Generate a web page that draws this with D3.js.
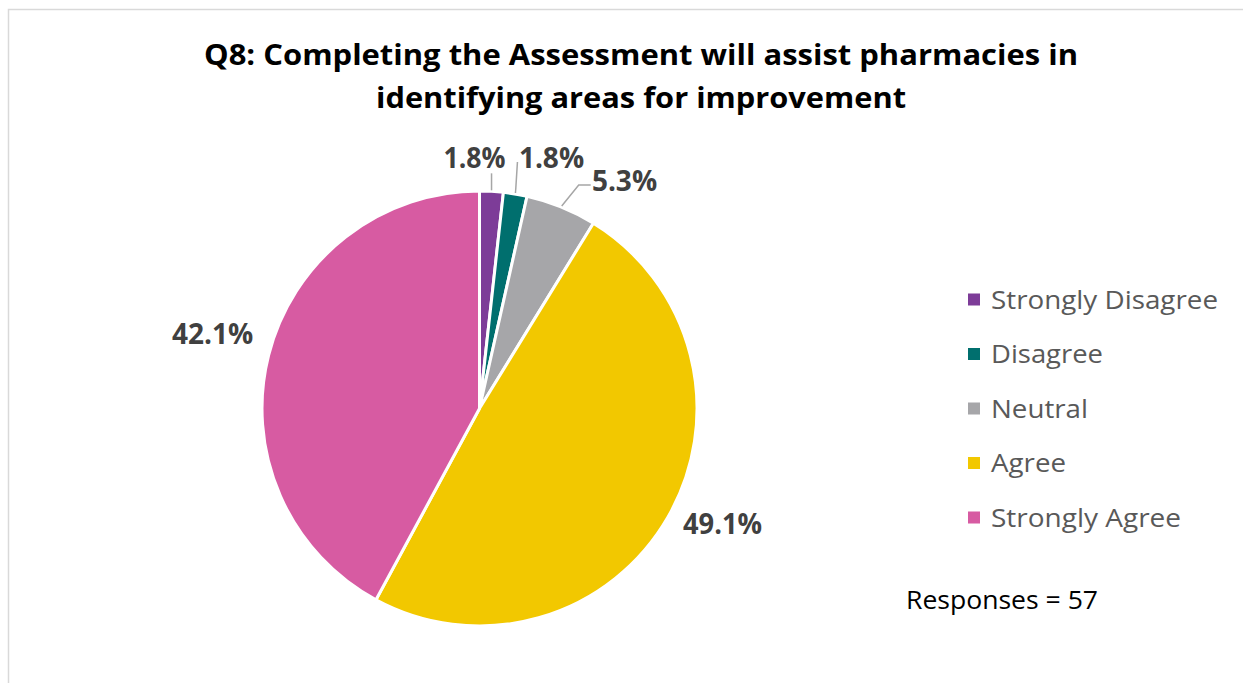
<!DOCTYPE html>
<html>
<head>
<meta charset="utf-8">
<script src="https://cdn.jsdelivr.net/npm/d3@7"></script>
<style>
  body { margin: 0; background: #fff; }
  svg { display: block; font-family: "Open Sans", "Noto Sans", sans-serif; }
</style>
</head>
<body>
<div id="chart"></div>
<script>
// Q8 responses (counts out of 57)
const categories = ["Strongly Disagree", "Disagree", "Neutral", "Agree", "Strongly Agree"];
const counts = [1, 1, 3, 28, 24];
const colors = ["#7d3c98", "#006f6e", "#a6a6a9", "#f2c800", "#d75ba2"];
const titleLines = ["Q8: Completing the Assessment will assist pharmacies in",
                    "identifying areas for improvement"];
const footnote = "Responses = 57";

const width = 1243, height = 683;
const cx = 479.5, cy = 408.5, radius = 217.5;

// label placement relative to pie centre, and leader line elbows (null = no leader)
const labelLayout = [
  { x: -5,   y: -251, w: 62, leader: [[0, -17]] },
  { x: 72,   y: -251, w: 65, leader: [[2, -31]] },
  { x: 145,  y: -228, w: 64, leader: [[17, -21], [29, -21]] },
  { x: 243,  y: 115,  w: 79, leader: null },
  { x: -267, y: -75,  w: 80, leader: null }
];

const svg = d3.select("#chart").append("svg")
  .attr("width", width)
  .attr("height", height);

// chart area border
svg.append("path")
  .attr("d", `M8.5,${height} V9.5 H${width}`)
  .attr("fill", "none")
  .attr("stroke", "#d9d9d9")
  .attr("stroke-width", 1.5);

// shrink/stretch text to the width it has in the original
function fit(sel, w) {
  sel.each(function () {
    const len = this.getComputedTextLength();
    if (Math.abs(len - w) / w > 0.02) {
      d3.select(this).attr("textLength", w).attr("lengthAdjust", "spacingAndGlyphs");
    }
  });
}

// title
const titleWidths = [874, 530];
titleLines.forEach((t, i) => {
  svg.append("text")
    .attr("x", 641)
    .attr("y", 65 + i * 43)
    .attr("text-anchor", "middle")
    .style("font-size", "28px")
    .style("font-weight", "bold")
    .style("fill", "#000")
    .text(t)
    .call(fit, titleWidths[i]);
});

const total = d3.sum(counts);
const data = categories.map((c, i) => ({ key: c, value: counts[i], color: colors[i], i }));

const pie = d3.pie().value(d => d.value).sort(null);
const arc = d3.arc().innerRadius(0).outerRadius(radius);
const arcs = pie(data);

const g = svg.append("g").attr("transform", `translate(${cx},${cy})`);

g.selectAll(".slice")
  .data(arcs)
  .enter().append("path")
  .attr("class", "slice")
  .attr("d", arc)
  .attr("fill", d => d.data.color)
  .attr("stroke", "#fff")
  .attr("stroke-width", 3)
  .attr("stroke-linejoin", "round");

// leader lines for the narrow slices
arcs.forEach((d, i) => {
  const lay = labelLayout[i];
  if (!lay.leader) return;
  const mid = (d.startAngle + d.endAngle) / 2;
  const p0 = [Math.sin(mid) * (radius + 1), -Math.cos(mid) * (radius + 1)];
  const pts = [p0].concat(lay.leader.map(p => [p0[0] + p[0], p0[1] + p[1]]));
  g.append("path")
    .attr("d", d3.line()(pts))
    .attr("fill", "none")
    .attr("stroke", "#a6a6a6")
    .attr("stroke-width", 1.5);
});

// percentage labels
g.selectAll(".label")
  .data(arcs)
  .enter().append("text")
  .attr("class", "label")
  .attr("x", (d, i) => labelLayout[i].x)
  .attr("y", (d, i) => labelLayout[i].y)
  .attr("dy", "0.36em")
  .attr("text-anchor", "middle")
  .style("font-size", "28px")
  .style("font-weight", "bold")
  .style("fill", "#404040")
  .text(d => d3.format(".1%")(d.data.value / total))
  .each(function (d, i) { fit(d3.select(this), labelLayout[i].w); });

// legend
const legend = svg.append("g").attr("transform", "translate(968,0)");
const legendY = d3.scalePoint().domain(categories).range([299.5, 517.5]);
const legendWidths = [227, 112, 97, 75, 190];

const item = legend.selectAll(".item")
  .data(data)
  .enter().append("g")
  .attr("class", "item")
  .attr("transform", d => `translate(0,${legendY(d.key)})`);

item.append("rect")
  .attr("x", 0)
  .attr("y", -6)
  .attr("width", 12)
  .attr("height", 12)
  .attr("fill", d => d.color);

item.append("text")
  .attr("x", 23)
  .attr("y", 0)
  .attr("dy", "0.36em")
  .style("font-size", "25px")
  .style("fill", "#595959")
  .text(d => d.key)
  .each(function (d, i) { fit(d3.select(this), legendWidths[i]); });

svg.append("text")
  .attr("x", 906)
  .attr("y", 609)
  .style("font-size", "26px")
  .style("fill", "#000")
  .text(footnote)
  .call(fit, 192);
</script>
</body>
</html>
